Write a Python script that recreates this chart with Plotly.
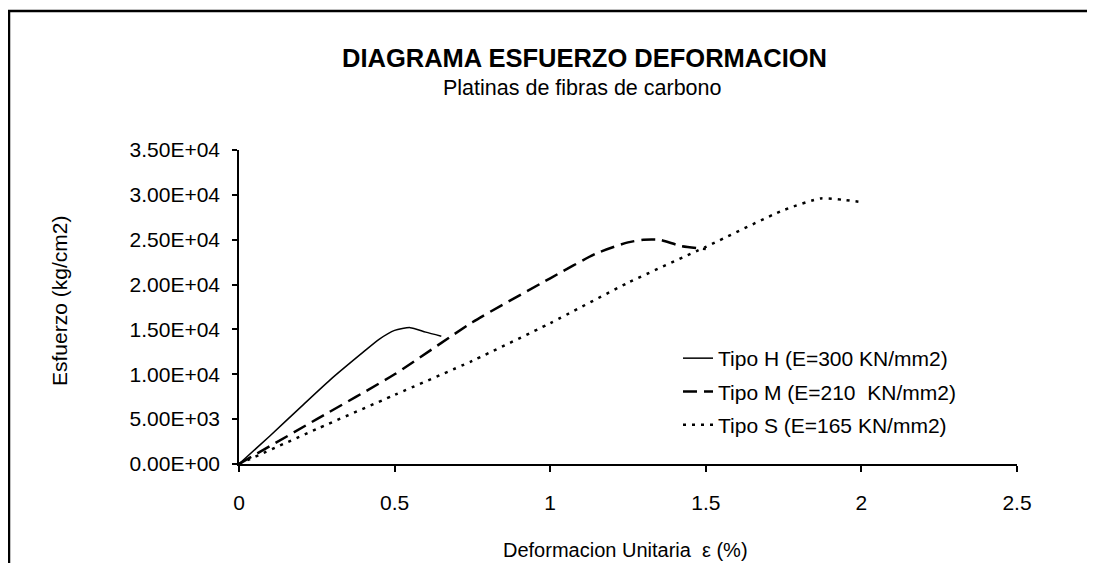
import plotly.graph_objects as go

# ---- data ----
h_x = [0, 0.1, 0.2, 0.3, 0.4, 0.45, 0.5, 0.55, 0.6, 0.65]
h_y = [0, 3150, 6400, 9600, 12500, 13900, 14900, 15200, 14700, 14250]

m_x = [0, 0.25, 0.5, 0.75, 1.0, 1.15, 1.25, 1.3, 1.35, 1.42, 1.5]
m_y = [0, 5000, 10000, 15800, 20700, 23500, 24700, 25000, 25000, 24300, 23950]

s_x = [0, 0.25, 0.5, 0.75, 1.0, 1.25, 1.5, 1.75, 1.87, 1.94, 2.0]
s_y = [0, 3900, 7700, 11500, 15700, 20200, 24200, 28300, 29600, 29450, 29200]

series_names = ["Tipo H (E=300 KN/mm2)", "Tipo M (E=210  KN/mm2)", "Tipo S (E=165 KN/mm2)"]

y_tickvals = [0, 5000, 10000, 15000, 20000, 25000, 30000, 35000]
y_ticktext = ["0.00E+00", "5.00E+03", "1.00E+04", "1.50E+04", "2.00E+04",
              "2.50E+04", "3.00E+04", "3.50E+04"]
x_tickvals = [0, 0.5, 1, 1.5, 2, 2.5]
x_ticktext = ["0", "0.5", "1", "1.5", "2", "2.5"]

title_text = "DIAGRAMA ESFUERZO DEFORMACION"
subtitle_text = "Platinas de fibras de carbono"
x_title = "Deformacion Unitaria  ε (%)"
y_title = "Esfuerzo (kg/cm2)"

FONT = "Liberation Sans, Arial, sans-serif"

# page geometry: the figure sits 8px in from the page corner (body margin)
OFF = 8
W, H = 1095 - 2 * OFF, 571 - 2 * OFF
# plot area in page pixels: x 239..1017, y 150..464
L, T = 239 - OFF, 150 - OFF
R = W - (1017 - OFF)
B = H - (464 - OFF)
PW, PH = W - L - R, H - T - B


def px(xp):
    """page pixel x -> paper fraction"""
    return (xp - OFF - L) / PW


def py(yp):
    """page pixel y -> paper fraction"""
    return (H - B - (yp - OFF)) / PH


fig = go.Figure()
fig.add_trace(go.Scatter(x=h_x, y=h_y, mode="lines", name=series_names[0],
                         legendgroup="h",
                         line=dict(color="black", width=1.5, shape="spline", smoothing=0.6)))
fig.add_trace(go.Scatter(x=m_x, y=m_y, mode="lines", name=series_names[1],
                         legendgroup="m",
                         line=dict(color="black", width=2.5, dash="14px,7px", shape="spline", smoothing=0.6)))
fig.add_trace(go.Scatter(x=s_x, y=s_y, mode="lines", name=series_names[2],
                         legendgroup="s",
                         line=dict(color="black", width=2.5, dash="3px,6px", shape="spline", smoothing=0.6)))

fig.update_layout(
    width=W, height=H,
    margin=dict(l=L, r=R, t=T, b=B, pad=0),
    paper_bgcolor="white", plot_bgcolor="white",
    font=dict(family=FONT, size=21, color="black"),
    showlegend=True,
    legend=dict(x=px(678), y=py(338), xanchor="left", yanchor="top",
                bgcolor="rgba(0,0,0,0)", font=dict(size=21),
                tracegroupgap=3, itemwidth=30),
    xaxis=dict(range=[0, 2.5], tickvals=x_tickvals, ticktext=x_ticktext,
               showgrid=False, zeroline=False, showline=True, linecolor="black",
               linewidth=1.5, ticks="outside", ticklen=6, tickcolor="black",
               tickwidth=1.5, ticklabelstandoff=13, tickfont=dict(size=21)),
    yaxis=dict(range=[0, 35000], tickvals=y_tickvals, ticktext=y_ticktext,
               showgrid=False, zeroline=False, showline=True, linecolor="black",
               linewidth=1.5, ticks="outside", ticklen=5, tickcolor="black",
               tickwidth=1.5, ticklabelstandoff=8, tickfont=dict(size=21)),
    annotations=[
        dict(text="<b>" + title_text + "</b>", x=px(584), y=py(58), xref="paper", yref="paper",
             showarrow=False, font=dict(size=25.5), xanchor="center", yanchor="middle"),
        dict(text=subtitle_text, x=px(582), y=py(88), xref="paper", yref="paper",
             showarrow=False, font=dict(size=21.5), xanchor="center", yanchor="middle"),
        dict(text=x_title, x=px(625), y=py(550), xref="paper", yref="paper",
             showarrow=False, font=dict(size=20), xanchor="center", yanchor="middle"),
        dict(text=y_title, x=px(59), y=py(301), xref="paper", yref="paper",
             showarrow=False, font=dict(size=21), textangle=-90,
             xanchor="center", yanchor="middle"),
    ],
    shapes=[
        dict(type="rect", xref="paper", yref="paper",
             x0=px(9), x1=px(1120), y0=py(11), y1=py(600),
             line=dict(color="black", width=2.5), fillcolor="rgba(0,0,0,0)", layer="above"),
    ],
)

fig.write_html("out.html")
